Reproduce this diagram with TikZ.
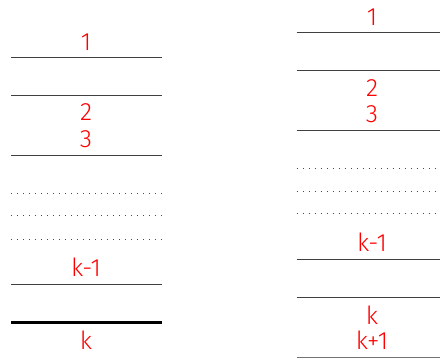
\documentclass[tikz,border=0pt]{standalone}
\usepackage{fontspec}
\setmainfont{Fira Sans Light}
\begin{document}
\begin{tikzpicture}[x=1pt,y=-1pt,
  lvl/.style={draw=black!75, line width=1pt},
  thickl/.style={draw=black, line width=3pt},
  dotl/.style={draw=black!70, line width=1pt, dash pattern=on 1pt off 5pt},
  lab/.style={text=red, font=\fontsize{25}{28}\selectfont, anchor=base, inner sep=0pt}]
\useasboundingbox (0,0) rectangle (440,358);
% left column
\coordinate (la1) at (11,57.3); \coordinate (lb1) at (162,57.3);
\coordinate (la2) at (11,95.7); \coordinate (lb2) at (162,95.7);
\coordinate (la3) at (11,155.7); \coordinate (lb3) at (162,155.7);
\coordinate (ld1a) at (11,193.3); \coordinate (ld1b) at (162,193.3);
\coordinate (ld2a) at (11,216); \coordinate (ld2b) at (162,216);
\coordinate (ld3a) at (11,239.3); \coordinate (ld3b) at (162,239.3);
\coordinate (la4) at (11,284.3); \coordinate (lb4) at (162,284.3);
\coordinate (la5) at (11,322.3); \coordinate (lb5) at (162,322.3);
\draw[lvl] (la1) -- (lb1);
\draw[lvl] (la2) -- (lb2);
\draw[lvl] (la3) -- (lb3);
\draw[dotl] (ld1a) -- (ld1b);
\draw[dotl] (ld2a) -- (ld2b);
\draw[dotl] (ld3a) -- (ld3b);
\draw[lvl] (la4) -- (lb4);
\draw[thickl] (la5) -- (lb5);
\node[lab] (l1) at (86,50.7) {1};
\node[lab] (l2) at (86,121) {2};
\node[lab] (l3) at (86,148) {3};
\node[lab] (lk1) at (86,277) {k-1};
\node[lab] (lk) at (86,350) {k};
% right column
\coordinate (ra1) at (296.7,32.7); \coordinate (rb1) at (440,32.7);
\coordinate (ra2) at (296.7,70.7); \coordinate (rb2) at (440,70.7);
\coordinate (ra3) at (296.7,131); \coordinate (rb3) at (440,131);
\coordinate (rd1a) at (296.7,169); \coordinate (rd1b) at (440,169);
\coordinate (rd2a) at (296.7,191.7); \coordinate (rd2b) at (440,191.7);
\coordinate (rd3a) at (296.7,213.3); \coordinate (rd3b) at (440,213.3);
\coordinate (ra4) at (296.7,259.3); \coordinate (rb4) at (440,259.3);
\coordinate (ra5) at (296.7,297.3); \coordinate (rb5) at (440,297.3);
\coordinate (ra6) at (296.7,357.3); \coordinate (rb6) at (440,357.3);
\draw[lvl] (ra1) -- (rb1);
\draw[lvl] (ra2) -- (rb2);
\draw[lvl] (ra3) -- (rb3);
\draw[dotl] (rd1a) -- (rd1b);
\draw[dotl] (rd2a) -- (rd2b);
\draw[dotl] (rd3a) -- (rd3b);
\draw[lvl] (ra4) -- (rb4);
\draw[lvl] (ra5) -- (rb5);
\draw[lvl, draw=black!55] (ra6) -- (rb6);
\node[lab] (r1) at (372,26) {1};
\node[lab] (r2) at (372,97) {2};
\node[lab] (r3) at (372,123) {3};
\node[lab] (rk1) at (372,252) {k-1};
\node[lab] (rk) at (372,325) {k};
\node[lab] (rk2) at (372,350) {k+1};
\end{tikzpicture}
\end{document}
